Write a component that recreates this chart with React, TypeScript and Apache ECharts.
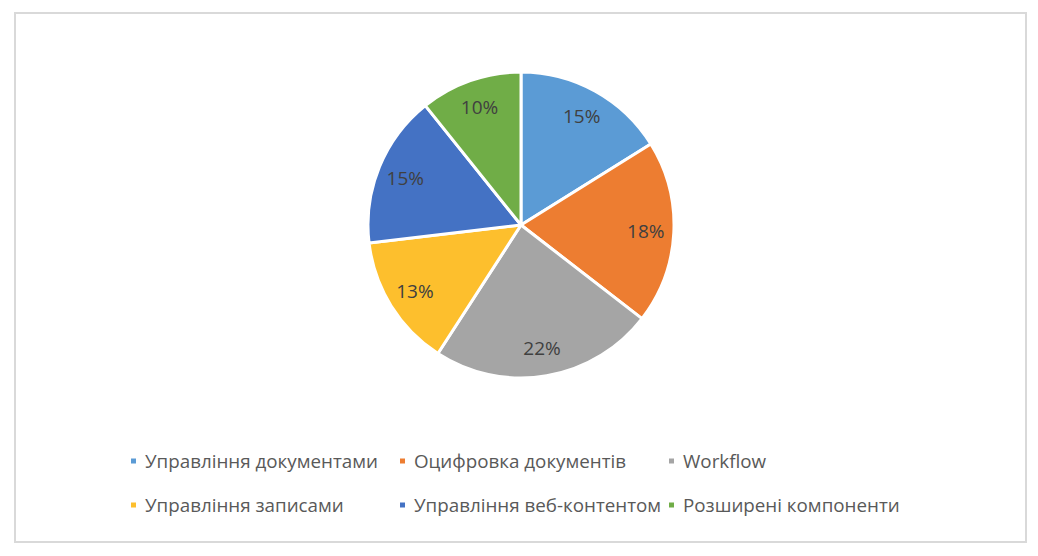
import React, { useEffect, useRef } from "react";
import * as echarts from "echarts";

const categories = [
  "Управління документами",
  "Оцифровка документів",
  "Workflow",
  "Управління записами",
  "Управління веб-контентом",
  "Розширені компоненти",
];
const values = [15, 18, 22, 13, 15, 10];
const colors = ["#5B9BD5", "#ED7D31", "#A5A5A5", "#FDBF2D", "#4472C4", "#70AD47"];

const FONT = "'Open Sans', 'Noto Sans', sans-serif";

export default function App() {
  const ref = useRef<HTMLDivElement>(null);
  useEffect(() => {
    document.body.style.margin = "0";
    const chart = echarts.init(ref.current!, null, { renderer: "svg" });
    const data = categories.map((name, i) => ({
      name,
      value: values[i],
      itemStyle: { color: colors[i] },
    }));
    const legendCols = [0, 1, 2].map((c) => [categories[c], categories[c + 3]]);
    const legendLefts = [129, 398, 667];
    chart.setOption({
      animation: false,
      backgroundColor: "#ffffff",
      graphic: [
        {
          type: "rect",
          shape: { x: 15, y: 13, width: 1011, height: 529 },
          style: { fill: "none", stroke: "#D9D9D9", lineWidth: 2 },
          silent: true,
        },
      ],
      legend: legendCols.map((col, i) => ({
        orient: "vertical",
        left: legendLefts[i],
        top: 450,
        padding: 0,
        data: col,
        icon: "rect",
        itemWidth: 7,
        itemHeight: 7,
        itemGap: 22,
        selectedMode: false,
        textStyle: {
          fontFamily: FONT,
          fontSize: 18.8,
          color: "#595959",
          lineHeight: 22,
          padding: [0, 0, 0, 3],
        },
      })),
      series: [
        {
          type: "pie",
          center: [521, 225],
          radius: [0, 153],
          startAngle: 90,
          clockwise: true,
          data,
          label: { show: false },
          labelLine: { show: false },
          itemStyle: { borderColor: "#ffffff", borderWidth: 3 },
          emphasis: { disabled: true },
        },
        {
          type: "pie",
          center: [521, 225],
          radius: [92, 152],
          startAngle: 90,
          clockwise: true,
          silent: true,
          legendHoverLink: false,
          data: categories.map((name, i) => ({ name, value: values[i] })),
          itemStyle: { color: "rgba(0,0,0,0)", borderWidth: 0 },
          label: {
            show: true,
            position: "inside",
            formatter: "{c}%",
            fontFamily: FONT,
            fontSize: 19,
            color: "#404040",
          },
          labelLine: { show: false },
          emphasis: { disabled: true },
        },
      ],
    });
    return () => chart.dispose();
  }, []);
  return <div ref={ref} style={{ width: 1038, height: 556 }} />;
}
